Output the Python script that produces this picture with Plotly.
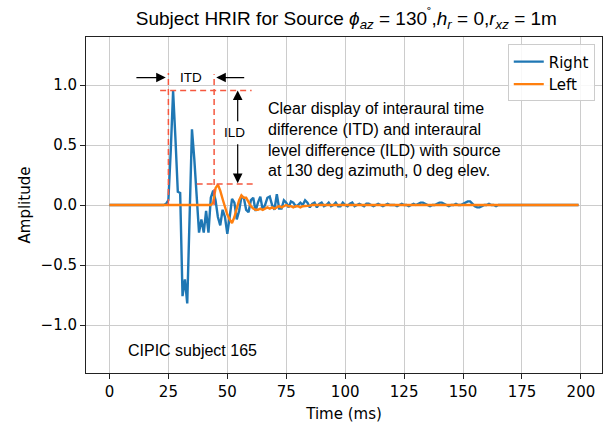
import plotly.graph_objects as go

# ---------------- data ----------------
time_ms = list(range(200))

right = [
    0.0, 0.0, 0.0, 0.0, 0.0, 0.0, 0.0, 0.0, 0.0, 0.0,
    0.0, 0.0, 0.0, 0.0, 0.0, 0.0, 0.0, 0.0, 0.0, 0.0,
    0.0, 0.0, 0.0, 0.0, 0.01, 0.04, 0.45, 0.95, 0.55, 0.11,
    0.10, -0.76, -0.62, -0.82, -0.10, 0.63, 0.38, 0.08, -0.23, -0.12,
    -0.23, -0.05, -0.23, 0.06, 0.12, 0.04, -0.10, -0.17, -0.04, -0.10,
    -0.24, -0.10, 0.05, 0.02, -0.12, -0.05, 0.07, 0.06, -0.04, -0.06,
    0.04, 0.06, -0.05, 0.02, 0.07, -0.04, 0.00, 0.06, 0.07, 0.00,
    -0.04, 0.09, -0.03, -0.03, 0.04, 0.02, -0.02, 0.03, 0.02, -0.01,
    0.00, 0.02, 0.00, 0.04, 0.02, -0.02, 0.01, 0.02, -0.02, 0.01,
    0.02, -0.01, 0.00, 0.02, -0.01, 0.00, 0.02, -0.01, -0.01, 0.02,
    0.00, -0.01, 0.01, 0.02, -0.01, 0.00, 0.01, 0.00, -0.01, 0.01,
    0.01, 0.00, -0.01, 0.00, 0.01, 0.00, -0.01, 0.00, 0.01, 0.00,
    0.00, 0.00, -0.01, 0.00, 0.01, 0.00, 0.00, -0.01, 0.00, 0.01,
    0.00, 0.01, 0.02, 0.02, 0.01, 0.00, -0.01, 0.00, 0.00, 0.01,
    0.02, 0.02, 0.01, 0.00, -0.01, 0.00, 0.00, 0.01, 0.00, 0.00,
    0.01, 0.02, 0.03, 0.03, 0.01, -0.01, -0.02, -0.02, -0.01, 0.00,
    0.00, 0.01, 0.00, 0.00, -0.01, 0.00, 0.00, 0.00, 0.00, 0.00,
    0.0, 0.0, 0.0, 0.0, 0.0, 0.0, 0.0, 0.0, 0.0, 0.0,
    0.0, 0.0, 0.0, 0.0, 0.0, 0.0, 0.0, 0.0, 0.0, 0.0,
    0.0, 0.0, 0.0, 0.0, 0.0, 0.0, 0.0, 0.0, 0.0, 0.0,
]

left = [
    0.0, 0.0, 0.0, 0.0, 0.0, 0.0, 0.0, 0.0, 0.0, 0.0,
    0.0, 0.0, 0.0, 0.0, 0.0, 0.0, 0.0, 0.0, 0.0, 0.0,
    0.0, 0.0, 0.0, 0.0, 0.0, 0.0, 0.0, 0.0, 0.0, 0.0,
    0.0, 0.0, 0.0, 0.0, 0.0, 0.0, 0.0, 0.0, 0.0, 0.0,
    0.0, 0.0, 0.0, 0.0, 0.02, 0.14, 0.17, 0.12, 0.05, -0.02,
    -0.08, -0.12, -0.15, -0.10, -0.02, 0.04, 0.08, 0.06, 0.06, 0.02,
    -0.01, -0.03, -0.04, -0.04, -0.03, -0.04, -0.03, -0.02, -0.03, -0.02,
    -0.03, -0.02, -0.01, -0.02, -0.01, 0.00, -0.01, -0.01, -0.02, -0.01,
    -0.01, -0.02, -0.01, -0.01, -0.01, -0.005, 0.0, 0.0, 0.0, 0.0,
    0.0, 0.0, 0.0, 0.0, 0.0, 0.0, 0.0, 0.0, 0.0, 0.0,
    0.0, 0.0, 0.0, 0.0, 0.0, 0.0, 0.0, 0.0, 0.0, 0.0,
    0.0, 0.0, 0.0, 0.0, 0.0, 0.0, 0.0, 0.0, 0.0, 0.0,
    0.0, 0.0, 0.0, 0.0, 0.0, 0.0, 0.0, 0.0, 0.0, 0.0,
    0.0, 0.0, 0.0, 0.0, 0.0, 0.0, 0.0, 0.0, 0.0, 0.0,
    0.0, 0.0, 0.0, 0.0, 0.0, 0.0, 0.0, 0.0, 0.0, 0.0,
    0.0, 0.0, 0.0, 0.0, 0.0, 0.0, 0.0, 0.0, 0.0, 0.0,
    0.0, 0.0, 0.0, 0.0, 0.0, 0.0, 0.0, 0.0, 0.0, 0.0,
    0.0, 0.0, 0.0, 0.0, 0.0, 0.0, 0.0, 0.0, 0.0, 0.0,
    0.0, 0.0, 0.0, 0.0, 0.0, 0.0, 0.0, 0.0, 0.0, 0.0,
    0.0, 0.0, 0.0, 0.0, 0.0, 0.0, 0.0, 0.0, 0.0, 0.0,
]

x_ticks = [0, 25, 50, 75, 100, 125, 150, 175, 200]
y_ticks = [-1.0, -0.5, 0.0, 0.5, 1.0]
y_tick_labels = ["\u22121.0", "\u22120.5", "0.0", "0.5", "1.0"]

series_names = ["Right", "Left"]
series_colors = ["#1f77b4", "#ff7f0e"]

title_html = ("Subject HRIR for Source <i>\u03d5</i><sub><i>az</i></sub> = 130<sup>\u02da</sup>,"
              "<i>h</i><sub><i>r</i></sub> = 0,<i>r</i><sub><i>xz</i></sub> = 1m")
note_text = ("Clear display of interaural time<br>difference (ITD) and interaural<br>"
             "level difference (ILD) with source<br>at 130 deg azimuth, 0 deg elev.")
subject_text = "CIPIC subject 165"

# ---------------- figure ----------------
TICK_FONT = dict(family="DejaVu Sans", size=15, color="black")
ARIAL = "Liberation Sans, Arial"
RED = "#f5583f"

fig = go.Figure()
for name, ys, col in zip(series_names, [right, left], series_colors):
    fig.add_trace(go.Scatter(x=time_ms, y=ys, mode="lines", name=name,
                             line=dict(color=col, width=2.4)))

shapes = [
    dict(type="line", x0=25, x1=25, y0=0, y1=1.10),
    dict(type="line", x0=44.4, x1=44.4, y0=0, y1=1.09),
    dict(type="line", x0=21.5, x1=60.3, y0=0.955, y1=0.955),
    dict(type="line", x0=37.0, x1=61.7, y0=0.175, y1=0.175),
]
for s in shapes:
    s.update(xref="x", yref="y", line=dict(color=RED, width=1.5, dash="6px,4px"))

arrows = [
    (23.9, 1.062, 10.8, 1.062),
    (45.3, 1.062, 57.8, 1.062),
    (54.4, 0.955, 54.4, 0.686),
    (54.4, 0.182, 54.4, 0.519),
]
annotations = []
for hx, hy, tx, ty in arrows:
    annotations.append(dict(x=hx, y=hy, ax=tx, ay=ty, xref="x", yref="y", axref="x", ayref="y",
                            text="", showarrow=True, arrowhead=2, arrowsize=1.6,
                            arrowwidth=1.2, arrowcolor="black"))
annotations += [
    dict(x=34.8, y=1.062, xref="x", yref="y", text="ITD", showarrow=False,
         font=dict(family=ARIAL, size=13.5, color="black")),
    dict(x=53.2, y=0.603, xref="x", yref="y", text="ILD", showarrow=False,
         font=dict(family=ARIAL, size=13.5, color="black")),
    dict(x=66.6, y=0.545, xref="x", yref="y", text=note_text, showarrow=False,
         xanchor="left", yanchor="middle", align="left",
         font=dict(family=ARIAL, size=16, color="black")),
    dict(x=7.0, y=-1.211, xref="x", yref="y", text=subject_text, showarrow=False,
         xanchor="left", yanchor="middle",
         font=dict(family=ARIAL, size=16, color="black")),
]

axis_common = dict(showline=True, linecolor="#222222", linewidth=1, mirror=True,
                   showgrid=True, gridcolor="#cccccc", gridwidth=1,
                   ticks="outside", ticklen=5, tickwidth=1, tickcolor="#222222",
                   zeroline=False, tickfont=TICK_FONT, automargin=False)

fig.update_layout(
    width=613, height=426,
    margin=dict(l=86, r=11, t=37, b=53),
    paper_bgcolor="white", plot_bgcolor="white",
    title=dict(text=title_html, x=0.565, xanchor="center", y=0.958, yanchor="middle",
               font=dict(family=ARIAL, size=19, color="black"), automargin=False),
    xaxis=dict(range=[-9.95, 208.95], tickvals=x_ticks,
               title=dict(text="Time (ms)", font=dict(family="DejaVu Sans", size=15, color="black"),
                          standoff=8),
               **axis_common),
    yaxis=dict(range=[-1.4, 1.4], tickvals=y_ticks, ticktext=y_tick_labels,
               title=dict(text="Amplitude", font=dict(family="DejaVu Sans", size=15, color="black"),
                          standoff=6),
               **axis_common),
    legend=dict(x=0.986, y=0.978, xanchor="right", yanchor="top",
                bgcolor="rgba(255,255,255,0.85)", bordercolor="#cccccc", borderwidth=1,
                font=dict(family="DejaVu Sans", size=15, color="black"),
                tracegroupgap=0, itemwidth=30),
    shapes=shapes,
    annotations=annotations,
    showlegend=True,
)

fig.write_html("out.html")
